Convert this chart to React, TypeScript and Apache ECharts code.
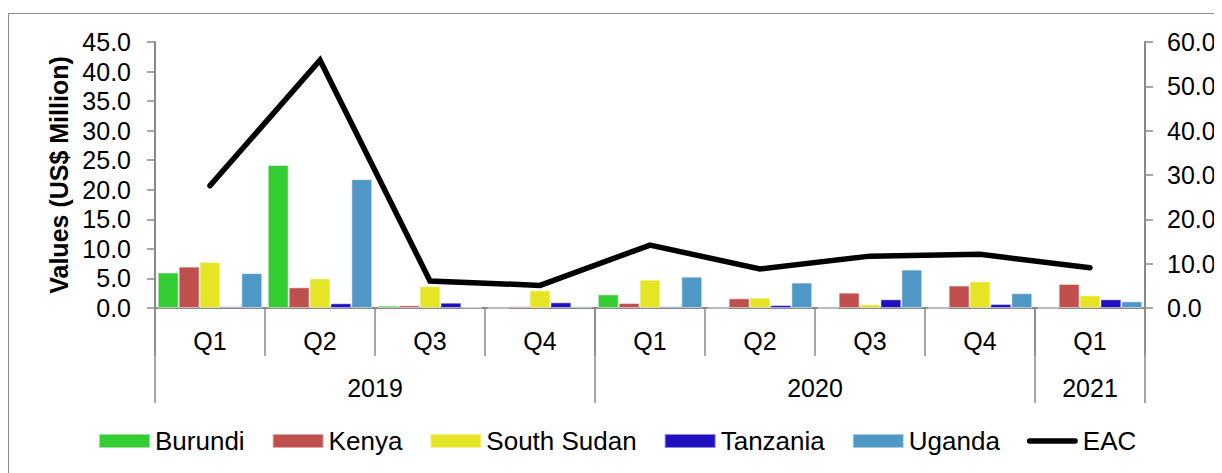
import React, { useEffect, useRef } from "react";
import * as echarts from "echarts";

const quarters = ["Q1", "Q2", "Q3", "Q4", "Q1", "Q2", "Q3", "Q4", "Q1"];
const years = ["2019", "2020", "2021"];
const yearQuarterCounts = [4, 4, 1];

const burundi = [6.0, 24.2, 0.4, 0.0, 2.3, 0.0, 0.0, 0.0, 0.0];
const kenya = [7.0, 3.5, 0.45, 0.3, 0.85, 1.64, 2.6, 3.8, 4.07];
const southSudan = [7.8, 5.0, 3.7, 3.0, 4.8, 1.75, 0.62, 4.5, 2.15];
const tanzania = [0.28, 0.8, 0.9, 0.96, 0.28, 0.5, 1.47, 0.68, 1.47];
const uganda = [5.9, 21.8, 0.1, 0.3, 5.3, 4.3, 6.5, 2.5, 1.13];
const eac = [27.6, 55.9, 6.1, 5.1, 14.2, 8.8, 11.7, 12.1, 9.1];

const seriesNames = ["Burundi", "Kenya", "South Sudan", "Tanzania", "Uganda"];
const seriesColors = ["#33CC33", "#C0504D", "#E5E526", "#2010C0", "#4F97C4"];

const FONT = "Liberation Sans";
const AXIS_GRAY = "#898989";
const LINE_ICON =
  "path://M3,0 L52,0 A3,3 0 0 1 52,6 L3,6 A3,3 0 0 1 3,0 Z";

export default function App() {
  const ref = useRef<HTMLDivElement>(null);

  useEffect(() => {
    if (!ref.current) return;
    const chart = echarts.init(ref.current, undefined, { renderer: "svg" });

    const boundaries: number[] = [0];
    const centers: number[] = [];
    let acc = 0;
    yearQuarterCounts.forEach((c) => {
      centers.push(acc + c / 2);
      acc += c;
      boundaries.push(acc);
    });

    const barData = [burundi, kenya, southSudan, tanzania, uganda];

    chart.setOption({
      animation: false,
      textStyle: { fontFamily: FONT, color: "#000" },
      grid: { left: 147, right: 77, top: 34, bottom: 165, containLabel: false },
      legend: {
        left: 85,
        top: 415,
        itemWidth: 51,
        itemHeight: 14,
        itemGap: 27,
        symbolKeepAspect: true,
        textStyle: { fontFamily: FONT, fontSize: 26, color: "#000" },
        data: [
          ...seriesNames.map((n) => ({ name: n, icon: "rect" })),
          { name: "EAC", icon: LINE_ICON, itemStyle: { color: "#000" } },
        ],
      },
      xAxis: [
        {
          type: "category",
          data: quarters,
          position: "bottom",
          axisLine: { show: true, lineStyle: { color: AXIS_GRAY, width: 2 } },
          axisTick: {
            show: true,
            alignWithLabel: false,
            length: 48,
            lineStyle: { color: AXIS_GRAY, width: 1.5 },
          },
          axisLabel: { fontSize: 25, color: "#000", margin: 20, fontFamily: FONT },
          splitLine: { show: false },
        },
        {
          type: "value",
          min: 0,
          max: quarters.length,
          position: "bottom",
          axisLine: { show: false },
          splitLine: { show: false },
          axisTick: {
            show: true,
            length: 95,
            customValues: boundaries,
            lineStyle: { color: AXIS_GRAY, width: 1.5 },
          },
          axisLabel: {
            show: true,
            customValues: centers,
            margin: 67,
            fontSize: 25,
            color: "#000",
            fontFamily: FONT,
            formatter: (v: number) => {
              const i = centers.indexOf(v);
              return i >= 0 ? years[i] : "";
            },
          },
        },
      ],
      yAxis: [
        {
          type: "value",
          min: 0,
          max: 45,
          interval: 5,
          position: "left",
          name: "Values (US$ Million)",
          nameLocation: "middle",
          nameGap: 82,
          nameTextStyle: { fontSize: 25, fontWeight: "bold", color: "#000", fontFamily: FONT },
          axisLine: { show: true, lineStyle: { color: AXIS_GRAY, width: 2 } },
          axisTick: { show: true, length: 8, lineStyle: { color: AXIS_GRAY, width: 1.5 } },
          axisLabel: {
            fontSize: 25,
            color: "#000",
            margin: 24,
            fontFamily: FONT,
            formatter: (v: number) => v.toFixed(1),
          },
          splitLine: { show: false },
        },
        {
          type: "value",
          min: 0,
          max: 60,
          interval: 10,
          position: "right",
          axisLine: { show: true, lineStyle: { color: AXIS_GRAY, width: 2 } },
          axisTick: { show: true, length: 8, lineStyle: { color: AXIS_GRAY, width: 1.5 } },
          axisLabel: {
            fontSize: 25,
            color: "#000",
            margin: 22,
            fontFamily: FONT,
            formatter: (v: number) => v.toFixed(1),
          },
          splitLine: { show: false },
        },
      ],
      series: [
        ...seriesNames.map((name, i) => ({
          name,
          type: "bar",
          xAxisIndex: 0,
          yAxisIndex: 0,
          data: barData[i],
          barGap: "0%",
          barCategoryGap: "5%",
          itemStyle: {
            color: seriesColors[i],
            borderColor: "rgba(255,255,255,0.5)",
            borderWidth: 1,
          },
        })),
        {
          name: "EAC",
          type: "line",
          xAxisIndex: 0,
          yAxisIndex: 1,
          data: eac,
          symbol: "none",
          showSymbol: false,
          lineStyle: { color: "#000", width: 5.5, cap: "round", join: "miter" },
          itemStyle: { color: "#000" },
        },
      ],
    });

    return () => chart.dispose();
  }, []);

  return (
    <div style={{ position: "relative", width: 1214, height: 465 }}>
      <div
        style={{
          position: "absolute",
          left: 0,
          top: 5,
          width: 1214,
          height: 460,
          boxSizing: "border-box",
          borderTop: "1.5px solid #8c8c8c",
          borderLeft: "1.5px solid #8c8c8c",
        }}
      />
      <div ref={ref} style={{ position: "absolute", left: 0, top: 0, width: 1214, height: 465 }} />
    </div>
  );
}
